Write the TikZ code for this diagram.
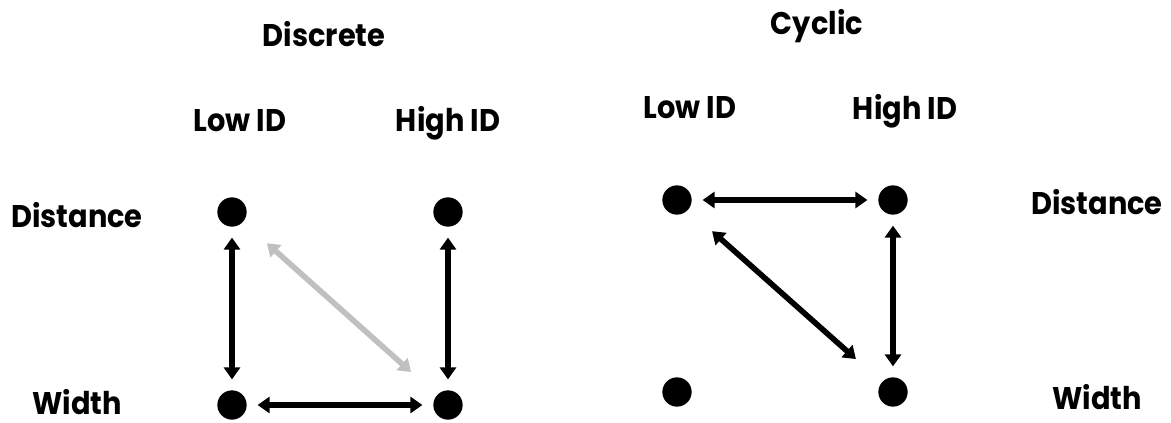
\documentclass[tikz,border=0pt]{standalone}
\usepackage{fontspec}
\setmainfont{Poppins}[FakeStretch=0.92]
\usetikzlibrary{arrows.meta}
\definecolor{lightgrey}{RGB}{192,192,192}
\tikzset{
  dot/.style={circle, fill=black, inner sep=0pt, minimum size=22pt},
  lbl/.style={anchor=base, inner sep=0pt, text depth=0pt, font=\bfseries\fontsize{23.5}{26}\selectfont},
  link/.style={{Triangle[width=12pt,length=9pt]}-{Triangle[width=12pt,length=9pt]}, line width=4.2pt, shorten <=8pt, shorten >=8pt},
}
\begin{document}
\begin{tikzpicture}[x=0.75pt, y=-0.75pt]
    \useasboundingbox (0,0) rectangle (1171,423);
    % discrete
    \node [lbl] (discrete) at (324,47) {Discrete};
    \node [lbl] (dlow) at (240,132) {Low ID};
    \node [lbl] (dhigh) at (448,132) {High ID};
    \node [lbl] (ddist) at (77,228) {Distance};
    \node [lbl] (dwidth) at (77,415) {Width};
    \node [dot] (d1) at (232,212) {};
    \node [dot] (d2) at (448,212) {};
    \node [dot] (d3) at (232,405) {};
    \node [dot] (d4) at (448,405) {};
    \draw [link] (d1) -- (d3);
    \draw [link] (d2) -- (d4);
    \draw [link] (d3) -- (d4);
    \draw [link, lightgrey, shorten <=24pt, shorten >=26pt] (d1) -- (d4);
    % cyclic
    \node [lbl] (cyclic) at (817,35) {Cyclic};
    \node [lbl] (clow) at (690,119) {Low ID};
    \node [lbl] (chigh) at (905,120) {High ID};
    \node [lbl] (cdist) at (1097,215) {Distance};
    \node [lbl] (cwidth) at (1097,410) {Width};
    \node [dot] (c1) at (677,200) {};
    \node [dot] (c2) at (893,200) {};
    \node [dot] (c3) at (677,392) {};
    \node [dot] (c4) at (893,392) {};
    \draw [link] (c1) -- (c2);
    \draw [link] (c2) -- (c4);
    \draw [link, shorten <=24pt, shorten >=26pt] (c1) -- (c4);
\end{tikzpicture}
\end{document}
